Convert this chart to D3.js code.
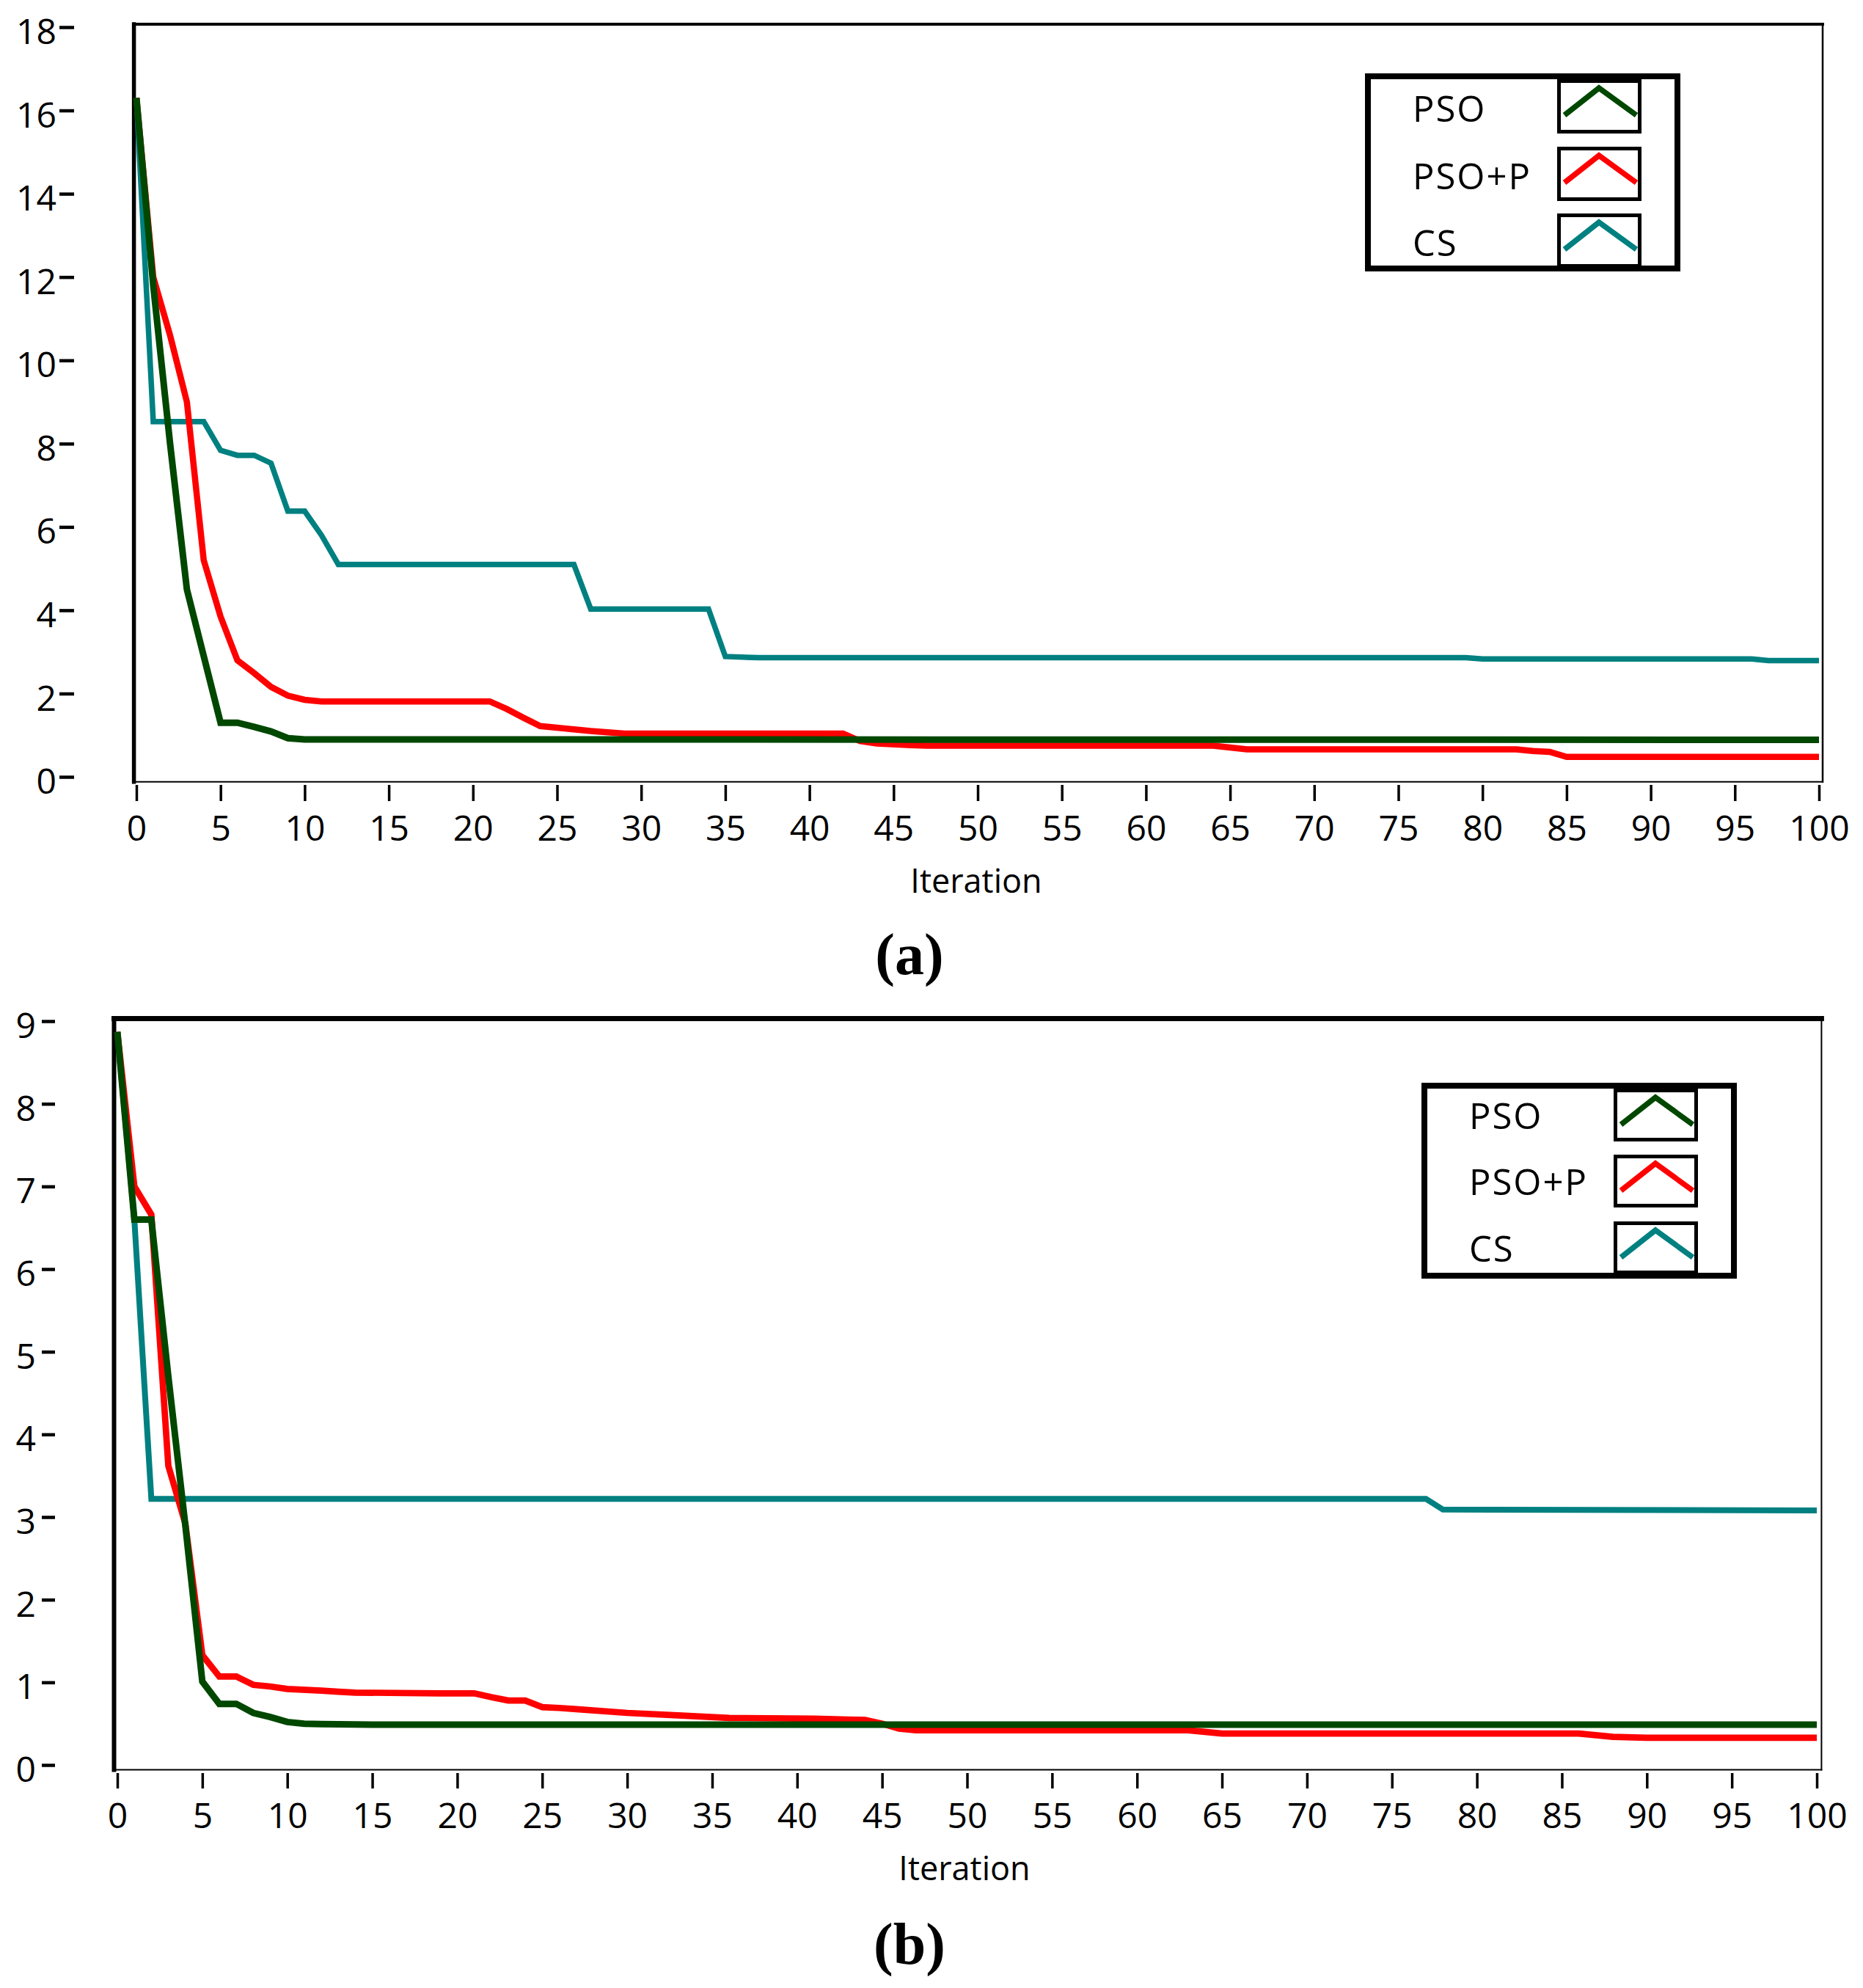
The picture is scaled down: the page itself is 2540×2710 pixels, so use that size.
<!DOCTYPE html>
<html>
<head>
<meta charset="utf-8">
<script src="https://cdn.jsdelivr.net/npm/d3@7"></script>
<style>
  body { margin: 0; background: #fff; }
  text { font-family: "Liberation Sans Narrow", "Open Sans", sans-serif; fill: #000; }
</style>
</head>
<body>
<script>
// tick labels
var iterTicks = [0, 5, 10, 15, 20, 25, 30, 35, 40, 45, 50, 55, 60, 65, 70, 75, 80, 85, 90, 95, 100];
var yTicksA = [0, 2, 4, 6, 8, 10, 12, 14, 16, 18];
var yTicksB = [0, 1, 2, 3, 4, 5, 6, 7, 8, 9];

var seriesNames = ["PSO", "PSO+P", "CS"];
var seriesColors = ["#004700", "#ff0000", "#008080"];

// panel (a): [iteration, value]
var psoA = [[0, 16.3], [1, 11.8], [2, 8.0], [3, 4.5], [4, 2.9], [5, 1.3], [6, 1.3], [7, 1.2],
  [8, 1.09], [9, 0.93], [10, 0.9], [100, 0.89]];
var psopA = [[0, 16.3], [1, 12.0], [2, 10.6], [3, 9.0], [4, 5.2], [5, 3.85], [6, 2.8], [7, 2.49],
  [8, 2.16], [9, 1.95], [10, 1.85], [11, 1.81], [21, 1.81], [22, 1.63], [23, 1.42], [24, 1.22],
  [25, 1.18], [26, 1.14], [27, 1.10], [28, 1.07], [29, 1.04], [42, 1.04], [43, 0.86], [44, 0.8],
  [46, 0.76], [47, 0.75], [64, 0.75], [66, 0.66], [82, 0.66], [83, 0.62], [84, 0.6], [85, 0.48],
  [100, 0.48]];
var csA = [[0, 16.3], [1, 8.53], [4, 8.53], [5, 7.84], [6, 7.72], [7, 7.72], [8, 7.53], [9, 6.38],
  [10, 6.38], [11, 5.8], [12, 5.1], [26, 5.1], [27, 4.03], [34, 4.03], [35, 2.89], [37, 2.86],
  [79, 2.86], [80, 2.83], [96, 2.83], [97, 2.79], [100, 2.79]];

// panel (b)
var psoB = [[0, 8.87], [1, 6.6], [2, 6.6], [3, 4.7], [4, 2.9], [5, 1.01], [6, 0.74], [7, 0.74],
  [8, 0.63], [9, 0.58], [10, 0.52], [11, 0.5], [12, 0.495], [15, 0.488], [100, 0.488]];
var psopB = [[0, 8.87], [1, 7.0], [2, 6.66], [3, 3.62], [4, 2.92], [5, 1.33], [6, 1.07], [7, 1.07],
  [8, 0.97], [9, 0.95], [10, 0.92], [12, 0.9], [13, 0.886], [14, 0.876], [19, 0.867], [21, 0.867],
  [22, 0.82], [23, 0.78], [24, 0.78], [25, 0.7], [26, 0.69], [27, 0.675], [30, 0.63], [33, 0.6],
  [36, 0.57], [41, 0.56], [43, 0.55], [44, 0.545], [45, 0.5], [46, 0.44], [47, 0.42], [63, 0.42],
  [65, 0.38], [86, 0.38], [88, 0.34], [90, 0.33], [100, 0.33]];
var csB = [[0, 8.87], [1, 6.6], [2, 3.22], [77, 3.22], [78, 3.09], [100, 3.08]];

var svg = d3.select("body").append("svg")
  .attr("width", 2540)
  .attr("height", 2710);

svg.append("rect").attr("width", 2540).attr("height", 2710).attr("fill", "#fff");

function drawPanel(p) {
  var g = svg.append("g");
  var x = d3.scaleLinear().domain([0, 100]).range(p.xRange);
  var y = d3.scaleLinear().domain(p.yDomain).range(p.yRange);

  // frame, each side its own weight
  var f = p.frame;
  [[f.left, f.top, f.right, f.top, p.fw[0]],
   [f.left, f.top, f.left, f.bottom, p.fw[1]],
   [f.left, f.bottom, f.right, f.bottom, p.fw[2]],
   [f.right, f.top, f.right, f.bottom, p.fw[3]]].forEach(function(s) {
    g.append("line")
      .attr("x1", s[0]).attr("y1", s[1]).attr("x2", s[2]).attr("y2", s[3])
      .attr("stroke", "#000").attr("stroke-width", s[4]).attr("stroke-linecap", "square");
  });

  // y axis, detached from the frame
  var yAxis = g.append("g")
    .attr("transform", "translate(" + p.yAxisX + ",0)")
    .call(d3.axisLeft(y).tickValues(p.yTicks).tickSize(p.yTickSize).tickPadding(p.yPad));
  yAxis.select(".domain").remove();
  yAxis.selectAll(".tick line").attr("stroke", "#000").attr("stroke-width", 4.5);
  yAxis.selectAll(".tick text")
    .attr("dy", "0.47em")
    .style("font-size", "48px");

  var xAxis = g.append("g")
    .attr("transform", "translate(0," + p.xAxisY + ")")
    .call(d3.axisBottom(x).tickValues(iterTicks).tickSize(p.xTickSize).tickPadding(p.xPad));
  xAxis.select(".domain").remove();
  xAxis.selectAll(".tick line").attr("stroke", "#000").attr("stroke-width", 3.5);
  xAxis.selectAll(".tick text")
    .style("font-size", "48px");

  g.append("text")
    .attr("x", p.titleX).attr("y", p.titleY)
    .attr("text-anchor", "middle")
    .style("font-family", "'Open Sans', sans-serif")
    .style("font-size", "45px")
    .text("Iteration");

  g.append("text")
    .attr("x", 1240).attr("y", p.captionY)
    .attr("text-anchor", "middle")
    .style("font-family", "'Liberation Serif', serif")
    .style("font-weight", "bold")
    .style("font-size", "80px")
    .text(p.caption);

  var line = d3.line()
    .x(function(d) { return x(d[0]); })
    .y(function(d) { return y(d[1]); });

  // CS under PSO+P under PSO
  [2, 1, 0].forEach(function(i) {
    g.append("path")
      .datum(p.data[i])
      .attr("d", line)
      .attr("fill", "none")
      .attr("stroke", seriesColors[i])
      .attr("stroke-width", p.widths[i]);
  });

  // legend
  var L = p.legend;
  g.append("rect")
    .attr("x", L.x + 4).attr("y", L.y + 4)
    .attr("width", L.w - 8).attr("height", L.h - 8)
    .attr("fill", "#fff").attr("stroke", "#000").attr("stroke-width", 8);

  seriesNames.forEach(function(name, i) {
    var sy = L.swY[i];
    g.append("text")
      .attr("x", L.labelX).attr("y", sy + L.labelDy)
      .style("font-size", "49px")
      .style("letter-spacing", "2px")
      .text(name);
    g.append("rect")
      .attr("x", L.swX + 2.5).attr("y", sy + 2.5)
      .attr("width", L.swW - 5).attr("height", L.swH - 5)
      .attr("fill", "#fff").attr("stroke", "#000").attr("stroke-width", 5);
    g.append("path")
      .attr("d", d3.line()([[L.swX + 10, sy + 49], [L.swX + 57, sy + 12], [L.swX + 108, sy + 49]]))
      .attr("fill", "none")
      .attr("stroke", seriesColors[i])
      .attr("stroke-width", 7.5);
  });
}

drawPanel({
  frame: {left: 182.6, top: 33, right: 2485, bottom: 1065.7},
  fw: [4, 5.5, 2, 2.5],
  xRange: [186, 2480],
  yDomain: [0, 18], yRange: [1059, 37], yTicks: yTicksA,
  yAxisX: 101, yTickSize: 20, yPad: 4,
  xAxisY: 1070, xTickSize: 22, xPad: 20,
  titleX: 1331, titleY: 1217,
  caption: "(a)", captionY: 1328,
  widths: [9, 8.5, 7.5],
  data: [psoA, psopA, csA],
  legend: {x: 1861, y: 100, w: 430, h: 270, swX: 2123, swY: [108, 200, 291], swW: 115, swH: 74,
    labelX: 1926, labelDy: 58}
});

drawPanel({
  frame: {left: 155.5, top: 1388.6, right: 2483.4, bottom: 2412.5},
  fw: [7, 6, 2, 2],
  xRange: [160, 2477],
  yDomain: [0, 9], yRange: [2406, 1392], yTicks: yTicksB,
  yAxisX: 75, yTickSize: 18, yPad: 8,
  xAxisY: 2417, xTickSize: 21, xPad: 20,
  titleX: 1315, titleY: 2563,
  caption: "(b)", captionY: 2677,
  widths: [9, 8.7, 8],
  data: [psoB, psopB, csB],
  legend: {x: 1938, y: 1476, w: 430, h: 267, swX: 2200, swY: [1484, 1574, 1665], swW: 115, swH: 72,
    labelX: 2003, labelDy: 55}
});
</script>
</body>
</html>
